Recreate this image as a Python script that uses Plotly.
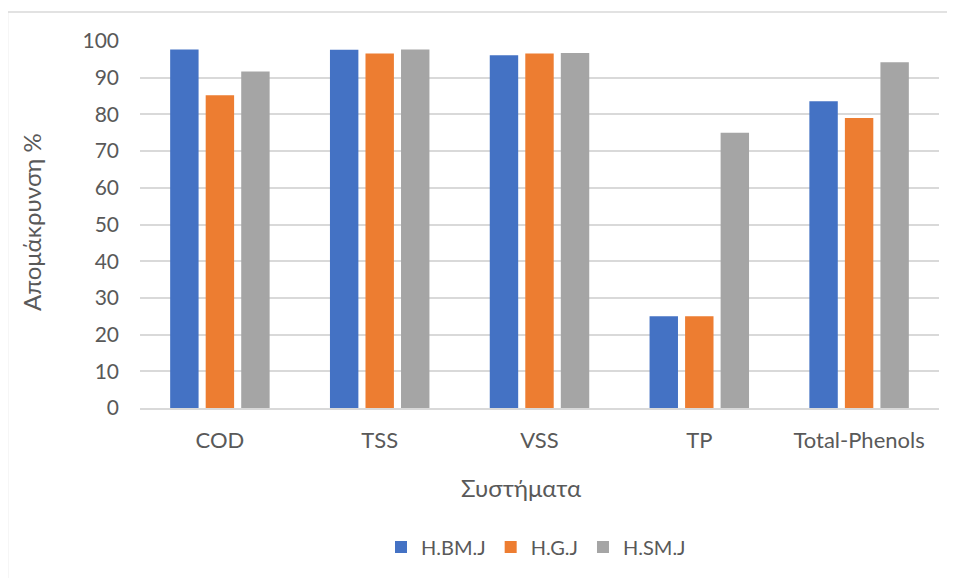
import plotly.graph_objects as go

categories = ["COD", "TSS", "VSS", "TP", "Total-Phenols"]
hbmj = [97.7, 97.6, 96.1, 25.0, 83.6]
hgj = [85.2, 96.6, 96.6, 25.0, 79.0]
hsmj = [91.7, 97.7, 96.7, 75.0, 94.2]
series_names = ["H.BM.J", "H.G.J", "H.SM.J"]
colors = ["#4472C4", "#ED7D31", "#A5A5A5"]
y_ticks = list(range(0, 101, 10))

FONT = "Lato"
TXT = "#595959"

fig = go.Figure()
for name, vals, c in zip(series_names, [hbmj, hgj, hsmj], colors):
    fig.add_trace(go.Bar(x=categories, y=vals, name=name, marker=dict(color=c, line=dict(width=0))))

# page has an 8px body margin; figure coordinates are page - 8
OFF = 8
W, H = 955 - OFF, 578 - OFF
L, R, T, B = 140 - OFF, W - (939 - OFF), 41 - OFF, H - (408 - OFF)
pw, ph = W - L - R, H - T - B

def px_x(page_px):
    return (page_px - OFF - L) / pw

def px_y(page_py):
    return (H - B - (page_py - OFF)) / ph

fig.update_layout(
    width=W, height=H,
    margin=dict(l=L, r=R, t=T, b=B),
    plot_bgcolor="white", paper_bgcolor="white",
    barmode="group", bargap=0.333, bargroupgap=0.2,
    font=dict(family=FONT, color=TXT, size=18),
    showlegend=True,
    legend=dict(orientation="h", x=px_x(536), xanchor="center", y=px_y(547), yanchor="middle",
                font=dict(size=20, color=TXT), traceorder="normal"),
    xaxis=dict(
        showgrid=False, showline=True, linecolor="#D9D9D9", linewidth=1.5,
        tickfont=dict(size=22, color=TXT), ticks="", ticklabelstandoff=12,
    ),
    yaxis=dict(
        range=[0, 100], tickvals=y_ticks, showgrid=True, gridcolor="#D9D9D9", gridwidth=1.5,
        zeroline=False, showline=False, tickfont=dict(size=21, color=TXT), ticks="",
        ticklabelstandoff=20,
    ),
    annotations=[
        dict(text="Συστήματα", xref="paper", yref="paper", x=px_x(521), y=px_y(487),
             xanchor="center", yanchor="middle", showarrow=False, font=dict(size=24, color=TXT)),
        dict(text="Απομάκρυνση %", xref="paper", yref="paper", x=px_x(32), y=px_y(222),
             xanchor="center", yanchor="middle", textangle=-90, showarrow=False,
             font=dict(size=24, color=TXT)),
    ],
    shapes=[dict(type="rect", xref="paper", yref="paper",
                 x0=px_x(7.5), x1=px_x(970),
                 y0=px_y(600), y1=px_y(12),
                 line=dict(color="#D9D9D9", width=1.5), fillcolor="rgba(0,0,0,0)", layer="below")],
)

fig.write_html("out.html")
